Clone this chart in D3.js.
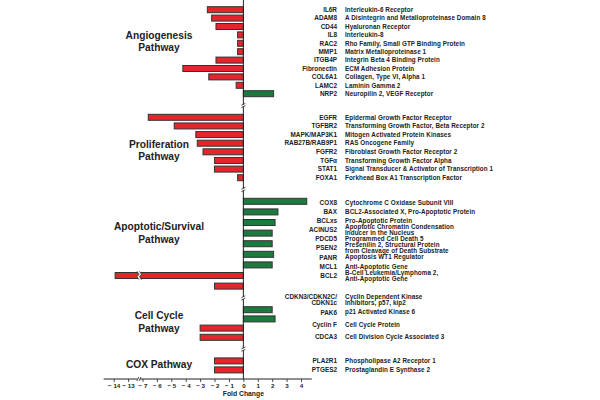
<!DOCTYPE html>
<html><head><meta charset="utf-8">
<script src="https://cdn.jsdelivr.net/npm/d3@7"></script>
<style>body{margin:0;background:#fff} svg{display:block}</style>
</head><body>
<svg id="chart" width="600" height="400"></svg>
<script>
// ---------------- data ----------------
const groupTitles = [["Angiogenesis","Pathway"],["Proliferation","Pathway"],["Apoptotic/Survival","Pathway"],["Cell Cycle","Pathway"],["COX Pathway"]];

const angioGenes = ["IL6R","ADAM8","CD44","IL8","RAC2","MMP1","ITGB4P","Fibronectin","COL6A1","LAMC2","NRP2"];
const angioDescriptions = ["Interleukin-6 Receptor","A Disintegrin and Metalloproteinase Domain 8","Hyaluronan Receptor","Interleukin-8","Rho Family, Small GTP Binding Protein","Matrix Metalloproteinase 1","Integrin Beta 4 Binding Protein","ECM Adhesion Protein","Collagen, Type VI, Alpha 1","Laminin Gamma 2","Neuropilin 2, VEGF Receptor"];
const angioFold = [-2.5,-2.2,-1.9,-0.4,-0.4,-0.4,-1.9,-4.2,-2.4,-0.5,2.1];

const prolifGenes = ["EGFR","TGFBR2","MAPK/MAP3K1","RAB27B/RAB9P1","FGFR2","TGF\u03b1","STAT1","FOXA1"];
const prolifDescriptions = ["Epidermal Growth Factor Receptor","Transforming Growth Factor, Beta Receptor 2","Mitogen Activated Protein Kinases","RAS Oncogene Family","Fibroblast Growth Factor Receptor 2","Transforming Growth Factor Alpha","Signal Transducer & Activator of Transcription 1","Forkhead Box A1 Transcription Factor"];
const prolifFold = [-6.6,-4.8,-3.3,-3.2,-2.8,-2.0,-2.0,-0.4];

const apopGenes = ["COX8","BAX","BCLxs","ACINUS2","PDCD5","PSEN2","PANR","MCL1","BCL2"];
const apopDescriptions = ["Cytochrome C Oxidase Subunit VIII","BCL2-Associated X, Pro-Apoptotic Protein","Pro-Apoptotic Protein","Apoptotic Chromatin Condensation\nInducer in the Nucleus","Programmed Cell Death 5","Presenilin 2, Structural Protein\nfrom Cleavage of Death Substrate","Apoptosis WT1 Regulator","Anti-Apoptotic Gene","B-Cell Leukemia/Lymphoma 2,\nAnti-Apoptotic Gene"];
const apopFold = [4.4,2.4,2.2,2.0,2.0,2.1,2.0,-13.9,-2.0];

const cellGenes = ["CDKN3/CDKN2C/\nCDKN1c","PAK6","Cyclin F","CDCA3"];
const cellDescriptions = ["Cyclin Dependent Kinase\nInhibitors, p57, kip2","p21 Activated Kinase 6","Cell Cycle Protein","Cell Division Cycle Associated 3"];
const cellFold = [2.0,2.2,-3.0,-3.0];

const coxGenes = ["PLA2R1","PTGES2"];
const coxDescriptions = ["Phospholipase A2 Receptor 1","Prostaglandin E Synthase 2"];
const coxFold = [-2.0,-2.0];

const xTickValues = [-14,-13,-7,-6,-5,-4,-3,-2,-1,0,1,2,3,4];
const xAxisTitle = "Fold Change";

// ---------------- layout ----------------
const groups = [
  {genes: angioGenes, desc: angioDescriptions, fold: angioFold},
  {genes: prolifGenes, desc: prolifDescriptions, fold: prolifFold},
  {genes: apopGenes, desc: apopDescriptions, fold: apopFold},
  {genes: cellGenes, desc: cellDescriptions, fold: cellFold},
  {genes: coxGenes, desc: coxDescriptions, fold: coxFold}
];
const L = {
  top: 9.7, gap: 23.6, barH: 6,
  steps:       [8.4, 8.63, 10.6, 9.2, 9],
  labelSteps:  [8.4, 8.63, 9.1, 12.3, 9],
  labelOffset: [0, 0, 1.3, -9.8, -0.6],
  titleRow:    [3.76, 3.85, 2.97, 1.3, 0.33],
  axisY: 379, geneX: 337, descX: 345, titleX: 159
};
const RED = "#e5252b", GREEN = "#1b7a3d", STROKE = "#333";
const FONT = "'Liberation Sans', Arial, Helvetica, sans-serif";

const svg = d3.select("#chart");

const x = d3.scaleLinear().domain([-14,-13,-7,4]).range([113.7,128.1,142.5,301.0]);
const breakVal = -13 + 0.7*6;
const breakX = x(breakVal);

let start = L.top;
groups.forEach((g,i) => {
  const n = g.genes.length;
  g.y = d3.scaleLinear().domain([0, n-1]).range([start, start + (n-1)*L.steps[i]]);
  const ls = start + L.labelOffset[i];
  g.ly = d3.scaleLinear().domain([0, n-1]).range([ls, ls + (n-1)*L.labelSteps[i]]);
  g.first = start; g.last = start + (n-1)*L.steps[i];
  start = g.last + L.gap;
});

const x0 = x(0);

// bars
groups.forEach((g,gi) => {
  const rows = g.fold.map((v,i) => ({v, i}));
  const grp = svg.append("g");
  grp.selectAll("rect").data(rows).enter().append("rect")
    .attr("x", d => Math.min(x(d.v), x0))
    .attr("y", d => g.y(d.i) - L.barH/2)
    .attr("width", d => Math.abs(x(d.v) - x0))
    .attr("height", L.barH)
    .attr("fill", d => d.v < 0 ? RED : GREEN)
    .attr("stroke", STROKE).attr("stroke-width", 1);
  rows.filter(d => d.v < breakVal).forEach(d => {
    const yc = g.y(d.i), t = yc - L.barH/2 - 1.2, b = yc + L.barH/2 + 1.2;
    const zig = off => `M${breakX-1.2+off},${t} L${breakX+0.8+off},${yc-1.2} L${breakX-1.2+off},${yc+1.2} L${breakX+0.8+off},${b}`;
    grp.append("path").attr("d", zig(0) + ` L${breakX+3.3},${b} L${breakX+1.3},${yc+1.2} L${breakX+3.3},${yc-1.2} L${breakX+1.3},${t} Z`)
      .attr("fill", "#fff").attr("stroke", "none");
    grp.append("path").attr("d", zig(0)).attr("fill","none").attr("stroke",STROKE).attr("stroke-width",0.8);
    grp.append("path").attr("d", zig(2.5)).attr("fill","none").attr("stroke",STROKE).attr("stroke-width",0.8);
  });
});

// vertical axis
svg.append("line").attr("x1", x0).attr("x2", x0).attr("y1", 0).attr("y2", L.axisY)
  .attr("stroke", "#222").attr("stroke-width", 1);
for (let i = 0; i < groups.length - 1; i++) {
  const yb = (groups[i].last + groups[i+1].first) / 2;
  svg.append("rect").attr("x", x0-2).attr("y", yb-1).attr("width", 4).attr("height", 2).attr("fill", "#fff");
  [-1.2, 1.2].forEach(o => svg.append("line")
    .attr("x1", x0-2).attr("y1", yb+o+0.9).attr("x2", x0+2).attr("y2", yb+o-0.9)
    .attr("stroke", "#222").attr("stroke-width", 0.8));
}

// x axis
const xAxis = d3.axisBottom(x).tickValues(xTickValues).tickSize(3).tickPadding(1.5)
  .tickFormat(d => d < 0 ? "\u2212 " + Math.abs(d) : String(d));
const ax = svg.append("g").attr("transform", `translate(0,${L.axisY})`).call(xAxis);
ax.select(".domain").remove();
ax.selectAll(".tick line").attr("stroke", "#222").attr("stroke-width", 0.8);
ax.selectAll(".tick text").attr("font-family", FONT).attr("font-size", 6.2).attr("font-weight", "bold").attr("fill", "#222");
ax.append("line").attr("x1", x(-14.7)).attr("x2", x(4.75)).attr("y1", 0).attr("y2", 0)
  .attr("stroke", "#222").attr("stroke-width", 1);
ax.append("rect").attr("x", breakX-0.8).attr("y", -1.5).attr("width", 2.6).attr("height", 3).attr("fill", "#fff");
[0, 2.2].forEach(o => ax.append("line")
  .attr("x1", breakX-1.4+o).attr("y1", 2).attr("x2", breakX+0.6+o).attr("y2", -2)
  .attr("stroke", "#222").attr("stroke-width", 0.8));
svg.append("text").attr("x", x0).attr("y", L.axisY + 17)
  .attr("text-anchor", "middle").attr("font-family", FONT).attr("font-size", 6.8).attr("font-weight", "bold")
  .attr("fill", "#222").text(xAxisTitle);

// labels
function multiText(sel, str, xPos, yc, anchor, size, lh, ls) {
  const lines = str.split("\n");
  const t = sel.append("text").attr("x", xPos).attr("text-anchor", anchor)
    .attr("font-family", FONT).attr("font-size", size).attr("font-weight", "bold")
    .attr("letter-spacing", ls).attr("fill", "#222");
  lines.forEach((ln, k) => t.append("tspan").attr("x", xPos)
    .attr("y", yc + (k - (lines.length-1)/2) * lh).attr("dy", "0.36em").text(ln));
}
groups.forEach((g,gi) => {
  g.genes.forEach((name, i) => {
    multiText(svg, name, L.geneX, g.ly(i), "end", 6.4, 5.8, 0);
    multiText(svg, g.desc[i], L.descX, g.ly(i), "start", 6.3, 5.8, 0.08);
  });
  const tc = g.y(L.titleRow[gi]);
  multiText(svg, groupTitles[gi].join("\n"), L.titleX, tc, "middle", 10.2, 12.5, 0);
});
</script>
</body></html>
